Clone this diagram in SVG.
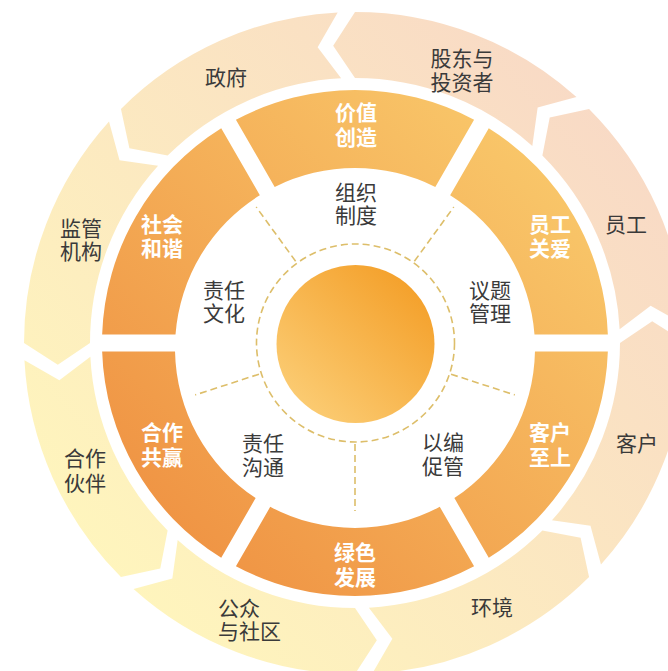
<svg xmlns="http://www.w3.org/2000/svg" width="668" height="671" viewBox="0 0 668 671">
<defs>
<linearGradient id="gOuter" gradientUnits="userSpaceOnUse" x1="60" y1="600" x2="650" y2="90">
<stop offset="0" stop-color="#FFF7BC"/>
<stop offset="1" stop-color="#F8D8C6"/>
</linearGradient>
<linearGradient id="gRing" gradientUnits="userSpaceOnUse" x1="600" y1="100" x2="110" y2="590">
<stop offset="0" stop-color="#FACE6F"/>
<stop offset="1" stop-color="#EE8C3E"/>
</linearGradient>
<linearGradient id="gCore" gradientUnits="userSpaceOnUse" x1="290" y1="420" x2="428" y2="268">
<stop offset="0" stop-color="#FCD07A"/>
<stop offset="1" stop-color="#F39B22"/>
</linearGradient>
<style>
.band{fill:url(#gOuter)}
.seg{fill:url(#gRing)}
.dash{fill:none;stroke:#DDBE6A;stroke-width:1.6;stroke-dasharray:7 4}
text{font-family:"Noto Sans CJK SC","Noto Sans",sans-serif;font-size:21px;text-anchor:middle}
.dark{fill:#3a3a3a}
.wht{fill:#ffffff;font-weight:bold}
</style>
</defs>
<rect width="668" height="671" fill="#ffffff"/>

<g id="outer-ring">
<g id="n-gudong"><path class="band" d="M355,12 A331,331 0 0 1 576.48,97.02 L537.65,107.53 L532.32,146.07 A265,265 0 0 0 355,78 L333.17,45.80 Z"/>
<text class="dark" x="462" y="66">股东与</text><text class="dark" x="462" y="90">投资者</text></g>
<g id="n-yuangong"><path class="band" d="M589.05,108.95 A331,331 0 0 1 685.55,325.68 L650.65,305.65 L619.64,329.13 A265,265 0 0 0 542.38,155.62 L549.72,117.41 Z"/>
<text class="dark" x="626" y="232">员工</text></g>
<g id="n-kehu"><path class="band" d="M686,343 A331,331 0 0 1 600.98,564.48 L590.47,525.65 L551.93,520.32 A265,265 0 0 0 620,343 L652.20,321.17 Z"/>
<text class="dark" x="637" y="451">客户</text></g>
<g id="n-huanjing"><path class="band" d="M589.05,577.05 A331,331 0 0 1 372.32,673.55 L392.35,638.65 L368.87,607.64 A265,265 0 0 0 542.38,530.38 L580.59,537.72 Z"/>
<text class="dark" x="492" y="615">环境</text></g>
<g id="n-gongzhong"><path class="band" d="M355,674 A331,331 0 0 1 133.52,588.98 L172.35,578.47 L177.68,539.93 A265,265 0 0 0 355,608 L376.83,640.20 Z"/>
<text class="dark" x="218" y="616" style="text-anchor:start">公众</text><text class="dark" x="218" y="639" style="text-anchor:start">与社区</text></g>
<g id="n-huoban"><path class="band" d="M120.95,577.05 A331,331 0 0 1 24.45,360.32 L59.35,380.35 L90.36,356.87 A265,265 0 0 0 167.62,530.38 L160.28,568.59 Z"/>
<text class="dark" x="85" y="466">合作</text><text class="dark" x="85" y="491">伙伴</text></g>
<g id="n-jianguan"><path class="band" d="M24,343 A331,331 0 0 1 109.02,121.52 L119.53,160.35 L158.07,165.68 A265,265 0 0 0 90,343 L57.80,364.83 Z"/>
<text class="dark" x="81" y="236">监管</text><text class="dark" x="81" y="259">机构</text></g>
<g id="n-zhengfu"><path class="band" d="M120.95,108.95 A331,331 0 0 1 337.68,12.45 L317.65,47.35 L341.13,78.36 A265,265 0 0 0 167.62,155.62 L129.41,148.28 Z"/>
<text class="dark" x="226" y="85">政府</text></g>
</g>

<g id="middle-ring">
<g id="n-jiazhi"><path class="seg" d="M235.92,119.78 A253,253 0 0 1 474.08,119.78 L435.31,186.91 A180,180 0 0 0 274.69,186.91 Z"/>
<text class="wht" x="356" y="120">价值</text><text class="wht" x="356" y="145">创造</text></g>
<g id="n-guanai"><path class="seg" d="M488.77,128.26 A253,253 0 0 1 607.86,334.50 L534.49,334.50 A180,180 0 0 0 450.15,195.20 Z"/>
<text class="wht" x="550" y="232">员工</text><text class="wht" x="550" y="256">关爱</text></g>
<g id="n-zhishang"><path class="seg" d="M607.86,351.50 A253,253 0 0 1 488.77,557.74 L454.36,498.09 A180,180 0 0 0 534.97,351.50 Z"/>
<text class="wht" x="550" y="440">客户</text><text class="wht" x="550" y="465">至上</text></g>
<g id="n-lvse"><path class="seg" d="M474.08,566.22 A253,253 0 0 1 235.92,566.22 L270.24,506.80 A180,180 0 0 0 439.76,506.80 Z"/>
<text class="wht" x="355" y="560">绿色</text><text class="wht" x="355" y="585">发展</text></g>
<g id="n-gongying"><path class="seg" d="M221.23,557.74 A253,253 0 0 1 102.14,351.50 L175.03,351.50 A180,180 0 0 0 255.64,498.09 Z"/>
<text class="wht" x="162" y="440">合作</text><text class="wht" x="162" y="465">共赢</text></g>
<g id="n-hexie"><path class="seg" d="M102.14,334.50 A253,253 0 0 1 221.23,128.26 L259.85,195.20 A180,180 0 0 0 175.51,334.50 Z"/>
<text class="wht" x="162" y="232">社会</text><text class="wht" x="162" y="256">和谐</text></g>
</g>

<g id="connectors">
<circle class="dash" cx="355.5" cy="343" r="99"/>
<line class="dash" x1="414.37" y1="261.29" x2="453.75" y2="207.08"/>
<line class="dash" x1="451.06" y1="374.21" x2="514.78" y2="394.92"/>
<line class="dash" x1="355" y1="444" x2="355" y2="511"/>
<line class="dash" x1="258.94" y1="374.21" x2="195.22" y2="394.92"/>
<line class="dash" x1="295.63" y1="261.29" x2="256.25" y2="207.08"/>
</g>

<g id="inner-sections">
<g id="n-zuzhi"><text class="dark" x="356" y="200">组织</text><text class="dark" x="356" y="223">制度</text></g>
<g id="n-yiti"><text class="dark" x="490" y="298">议题</text><text class="dark" x="490" y="321">管理</text></g>
<g id="n-yibian"><text class="dark" x="443" y="450">以编</text><text class="dark" x="443" y="474">促管</text></g>
<g id="n-goutong"><text class="dark" x="263" y="451">责任</text><text class="dark" x="263" y="475">沟通</text></g>
<g id="n-wenhua"><text class="dark" x="224" y="298">责任</text><text class="dark" x="224" y="321">文化</text></g>
</g>

<g id="n-core"><circle cx="355.5" cy="344" r="79" fill="url(#gCore)"/></g>
</svg>
